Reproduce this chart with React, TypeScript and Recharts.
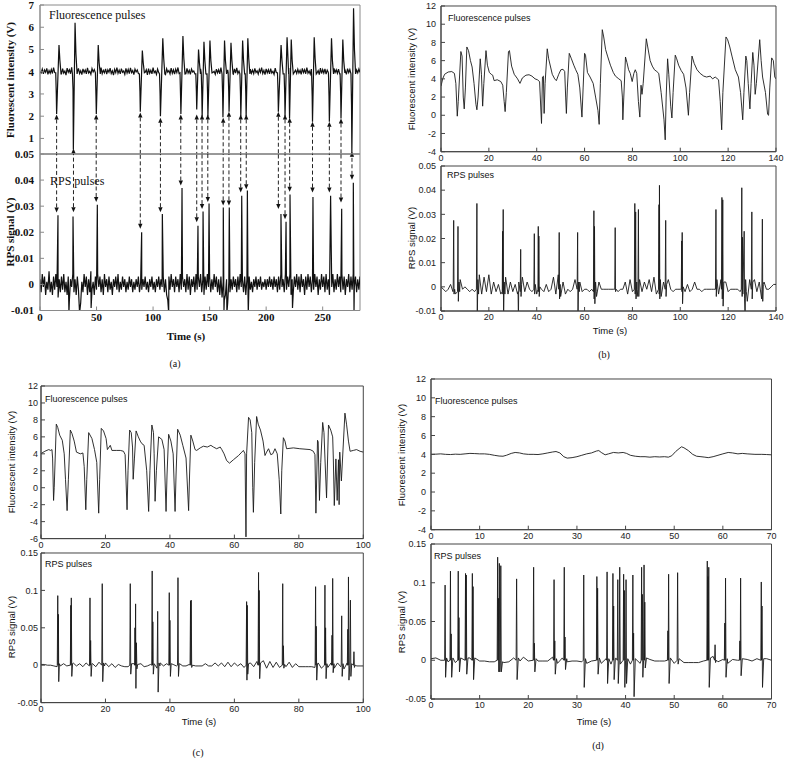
import React from "react";
import { LineChart, Line, XAxis, YAxis, ReferenceLine, ReferenceArea } from "recharts";

// ---------------- Panel (a) ----------------
const FLU_A_BASE = [
  4.02,3.95,4.12,3.9,4.08,3.97,4.15,3.88,4.05,3.93,
  4.1,3.92,4.18,3.96,4.04,3.86,4.12,3.99,4.07,3.9,
  4.14,3.94,4.03,3.85,4.16,3.98,4.09,3.91,4.2,3.95,
  4.06,3.89,4.11,3.97,4.15,3.92,4.04,3.87,4.13,3.96,
  4.08,3.9,4.17,3.94,4.02,3.88,4.14,3.99,4.1,3.93,
  4.05,3.86,4.12,3.97,4.19,3.91,4.06,3.95,4.13,3.89,
  4.09,3.98,4.16,3.92,4.04,3.85,4.11,3.96,4.18,3.93,
  4.07,3.9,4.14,3.97,4.03,3.88,4.15,3.94,4.1,3.91,
  4.17,3.96,4.05,3.87,4.12,3.99,4.08,3.92,4.16,3.95,
  4.04,3.89,4.13,3.97,4.09,3.86,4.14,3.93,4.06,3.9,
  4.18,3.95,4.03,3.88,4.12,3.96,4.1,3.91,4.15,3.94,
  4.07,3.87,4.13,3.98,4.05,3.9,4.16,3.93,4.08,3.89,
  4.11,3.96,4.19,3.92,4.04,3.87,4.14,3.97,4.09,3.91,
  4.15,3.94,4.06,3.88,4.12,3.99,4.03,3.9,4.17,3.95,
  4.08,3.86,4.13,3.96,4.1,3.92,4.05,3.89,4.16,3.94,
  4.07,3.91,4.14,3.97,4.02,3.88,4.12,3.95,4.09,3.9,
  4.18,3.93,4.04,3.87,4.15,3.98,4.08,3.91,4.11,3.96,
  4.06,3.89,4.13,3.94,4.17,3.92,4.03,3.86,4.14,3.97,
  4.1,3.9,4.05,3.95,4.16,3.88,4.12,3.93,4.07,3.91,
  4.15,3.96,4.04,3.89,4.11,3.97,4.18,3.92,4.06,3.87,
  4.13,3.95,4.09,3.9,4.14,3.94,4.02,3.88,4.16,3.96,
  4.08,3.91,4.12,3.97,4.05,3.89,4.15,3.93,4.1,3.9,
  4.17,3.95,4.04,3.86,4.13,3.98,4.07,3.92,4.11,3.94,
  4.06,3.88,4.15,3.96,4.09,3.91,4.19,3.93,4.03,3.89,
  4.12,3.97,4.08,3.9,4.14,3.95,4.05,3.87,4.16,3.92,
  4.1,3.94,4.13,3.89,4.07,3.96,4.17,3.91,4.04,3.88,
  4.15,3.97,4.09,3.93,4.12,3.9,4.06,3.95,4.18,3.92,
  4.04,3.88,4.14,3.96,4.1,3.91,4.07,3.94,4.16,3.9,
  4.08,3.95,4.12,3.97,
];

const FLU_A_PULSES: [number, number][][] = [
  [[13.9,3.95],[14.4,3.0],[14.7,2.1],[16.8,5.2],[17.6,4.5],[18.6,3.9]],
  [[28.7,3.9],[29.2,3.2],[29.5,0.5],[31.0,6.2],[31.8,4.8],[32.8,3.9]],
  [[49.0,3.95],[49.5,2.9],[49.8,2.1],[51.5,5.2],[52.3,4.4],[53.3,3.9]],
  [[87.9,3.9],[88.4,3.1],[88.7,2.2],[90.5,4.95],[91.3,4.4],[92.3,3.95]],
  [[105.7,3.9],[106.2,3.0],[106.5,2.0],[108.6,5.5],[109.4,4.6],[110.4,3.9]],
  [[123.8,3.95],[124.3,2.9],[124.6,2.1],[126.4,5.6],[127.2,4.6],[128.2,3.9]],
  [[137.8,3.9],[138.3,3.1],[138.6,2.3],[140.2,5.0],[141.0,4.4],[141.9,3.9]],
  [[142.6,3.95],[143.1,3.0],[143.4,2.0],[145.0,5.35],[145.8,4.5],[146.7,3.9]],
  [[147.7,3.9],[148.2,3.0],[148.5,2.0],[150.3,5.4],[151.1,4.5],[152.1,3.95]],
  [[161.0,3.9],[161.5,3.0],[161.8,1.95],[163.2,5.4],[164.0,4.5],[165.0,3.9]],
  [[166.4,3.95],[166.9,3.1],[167.2,2.2],[168.9,5.3],[169.7,4.5],[170.7,3.9]],
  [[176.8,3.9],[177.3,3.0],[177.6,2.0],[179.2,5.4],[180.0,4.5],[180.9,3.95]],
  [[181.5,3.9],[182.0,3.0],[182.3,2.0],[183.8,5.5],[184.6,4.6],[185.6,3.9]],
  [[210.0,3.95],[210.5,3.1],[210.8,2.2],[213.2,5.2],[214.0,4.5],[215.0,3.9]],
  [[215.9,3.9],[216.4,3.0],[216.7,2.0],[218.5,5.55],[219.3,4.6],[219.9,3.9]],
  [[220.1,3.95],[220.4,3.0],[220.7,1.9],[222.2,5.45],[223.0,4.5],[224.0,3.9]],
  [[240.2,3.9],[240.7,2.9],[241.0,1.75],[242.5,5.55],[243.3,4.6],[244.3,3.9]],
  [[255.1,3.95],[255.6,2.9],[255.9,1.75],[257.8,5.5],[258.6,4.5],[259.6,3.9]],
  [[265.4,3.9],[265.9,3.0],[266.2,1.9],[267.8,5.45],[268.6,4.5],[269.6,3.95]],
  [[275.0,3.9],[275.5,2.5],[275.8,0.35],[277.3,6.85],[278.1,5.0],[279.1,3.9]],
];

// RPS (a) in mV
const RPS_A_BASE_MV = [
  2,-3,4,-1,3,-4,1,-2,5,-3,
  1,-4,3,-2,4,-1,-5,2,-3,3,
  -2,4,-3,1,-4,3,-6,2,-1,4,
  -3,2,-4,3,-2,5,-7,1,-3,4,
  -1,3,-4,2,-3,5,-2,1,-4,3,
  -2,4,-1,3,-3,2,-4,4,-1,2,
  -3,3,-2,1,-4,2,-1,3,-2,4,
  -3,1,-2,3,-1,2,-3,1,-2,3,
  -1,2,-3,1,-2,2,-1,3,-3,1,
  -2,2,-1,3,-2,1,-3,2,-1,3,
  -2,1,-3,2,-1,3,-2,2,-1,3,
  -3,2,-4,-6,3,-2,4,-1,2,-3,
  3,-1,2,-3,4,-2,3,-1,2,-3,
  4,-2,3,-4,2,-1,3,-3,4,-2,
  3,-1,4,-3,2,-4,3,-2,4,-1,
  3,-3,2,-2,4,-1,3,-3,2,-4,
  3,-5,1,-6,-4,2,-7,1,-3,2,
  -2,3,-1,2,-3,3,-2,4,-1,2,
  -3,3,-4,2,-5,3,-2,1,-3,2,
  -1,3,-2,2,-1,3,-2,1,-1,2,
  -2,2,-1,3,-1,2,-2,3,-1,2,
  -3,3,-2,4,-1,2,-3,4,-2,3,
  -1,4,-4,2,-3,3,-1,4,-2,3,
  -3,4,-1,2,-4,3,-2,4,-1,3,
  -3,2,-2,4,-1,3,-4,2,-2,4,
  -1,3,-3,4,-2,2,-4,3,-1,4,
  -3,2,-2,4,-1,3,-3,4,-2,3,
  -4,2,-1,4,-3,3,-2,4,-1,3,
  -3,2,-2,3,
];

const RPS_A_SPIKES_MV: [number, number][] = [
  [15.9,26.5],[25.6,-11],[29.2,26],[35.0,-11],[45.2,-9],[50.7,30.5],[89.9,20],[108.2,27],
  [113.8,-11],[125.6,37],[139.7,22.5],[144.2,28],[149.5,31],[162.1,29.5],[162.7,-10],
  [165.3,-11],[167.4,29.5],[178.4,34],[183.4,36],[184.2,-11],[213.1,27],[217.6,24],
  [221.1,34.5],[223.3,-9],[241.4,33.5],[257.0,34],[266.8,29],[277.1,39],[277.7,-11],
];

// arrows: time, tip on fluorescence plot (V), tip on RPS plot (mV)
const ARROWS_A: [number, number, number][] = [
  [14.7,2.08,27.6],[29.6,0.55,27.7],[49.7,2.08,31.6],[88.7,2.17,21.3],[106.5,1.93,27.7],
  [124.5,2.08,37.9],[138.6,2.08,23.8],[143.3,2.08,28.9],[148.4,2.08,31.6],[162.0,1.93,30.3],
  [167.1,2.2,30.3],[177.5,2.08,35.2],[182.4,2.08,36.5],[210.8,2.2,28.9],[216.7,2.08,25.0],
  [220.8,1.93,35.5],[241.0,1.75,35.2],[255.9,1.75,35.2],[266.2,1.9,31.4],[275.9,0.4,40.1],
];

// ---------------- Panel (b) ----------------
const FLU_B: [number, number][] = [
  [0,3.2],[0.7,4.0],[1.5,4.5],[3,4.75],[4.5,4.8],[5.6,4.6],[6.2,3.5],[6.8,-0.1],[7.2,1.5],[8.3,7.0],
  [8.8,6.5],[9.3,2],[9.7,0.7],[10.2,3],[10.8,7.5],[11.5,7.1],[12.3,6],[13,5.3],[13.8,3.5],[14.6,1.2],
  [15,0.6],[15.5,2.0],[16.4,6.2],[16.9,4.5],[17.4,1.0],[17.9,3.5],[18.8,7.1],[19.4,5.5],[20.2,4.7],[21,4.5],
  [21.6,4.4],[22.2,3.8],[23.5,3.9],[25,3.7],[25.8,3.3],[26.4,1.5],[26.8,0.4],[27.3,2.5],[28.2,7.0],[28.6,7.1],
  [29.5,5.4],[30.6,4.5],[32,4.0],[33,3.5],[34,4.1],[35.5,4.4],[36.8,4.45],[38,4.3],[39.3,4.0],[40.3,3.9],
  [41.2,3.7],[41.7,0.8],[42,-0.9],[42.4,4.2],[42.8,4.3],[43.1,0.2],[43.5,3.5],[44.4,7.3],[45,6.2],[46.5,4.5],
  [47.5,4.0],[48.2,3.8],[49.2,4.5],[50.1,5.0],[51,5.05],[51.7,4.8],[52.1,2],[52.4,0.2],[52.8,3],[53.6,6.8],
  [54.5,6.2],[55.5,5.5],[56.3,5.0],[57.2,4.5],[58,3],[58.9,-0.2],[59.4,3],[60,6.8],[60.4,6.6],[61.2,4.7],
  [62.3,4.2],[63.6,3.5],[64.6,2.0],[65.6,0.5],[66.1,-1.0],[66.6,3.5],[67.4,9.4],[68,8.6],[68.8,7.2],[69.6,6.5],
  [70.8,5.5],[72,4.7],[72.9,4.3],[74.3,4.0],[75.3,3.8],[75.8,2],[76,-0.5],[76.4,2],[77.1,6.4],[77.7,5.8],
  [78.4,5.0],[79.1,4.6],[79.9,3.7],[80.6,4.6],[81.2,5.0],[81.8,4.6],[82.5,1.5],[83.1,-0.2],[83.6,3.3],[84,2.3],
  [84.5,3.5],[85.8,8.4],[86.4,7.5],[87.4,6.0],[88.3,5.4],[89.2,5.0],[90.2,4.8],[91,4.6],[92,2.5],[93.2,-0.5],
  [93.7,-2.7],[94.1,2],[94.7,6.2],[95.2,4.5],[96,1],[96.5,-0.3],[97,2.5],[97.9,6.6],[98.5,6.2],[99.3,5.5],
  [100.4,4.9],[101.4,4.5],[102.4,3],[103.4,0.0],[103.9,2.5],[104.9,6.5],[105.8,5.7],[107,5.0],[108.3,4.6],[109.8,4.3],
  [111,4.2],[112.5,4.3],[113.5,4.0],[114.6,4.2],[116,3.9],[116.7,1.5],[117.3,-1.6],[117.8,2.5],[119.1,8.6],[119.8,8.3],
  [120.7,7.5],[121.6,6.5],[123,5.0],[124.3,4.2],[125.2,2.5],[126.1,-0.5],[126.6,2.5],[127.4,6.5],[127.8,6.0],[128.4,3.5],
  [129.1,0.7],[129.6,3.5],[130.3,6.9],[130.8,5.5],[131.3,2.3],[131.8,3.5],[133.2,8.3],[133.8,6.0],[134.4,4.2],[135.6,2.5],
  [136.5,0.1],[136.9,0.0],[137.4,3.0],[138.2,6.3],[138.9,6.0],[139.5,4.2],[140,4.0],
];

const RPS_B_BASE_MV = [
  0,-1,-2,-1,1,-2,-3,-4,3,-1,
  0,-1,-2,-1,-2,-6,5,-3,4,-2,
  5,-3,2,-2,1,-3,-4,4,-3,2,
  -2,1,-3,-5,4,-2,2,-1,-2,3,
  -3,2,-1,-2,1,-2,-1,4,-3,5,
  -4,2,-3,-1,-2,-1,3,-5,2,-2,
  -1,-1,-2,-1,-3,-4,2,-1,-1,-1,
  -1,-1,-1,-2,-2,-1,-1,2,-3,3,
  -2,4,-4,3,-2,2,-1,3,-2,4,
  -3,5,-4,2,-3,3,-1,-2,-1,-1,
  -1,-3,-2,1,-2,-1,2,-1,-1,-2,
  -1,-1,-1,-1,-1,4,-3,3,-6,2,
  -2,-1,-1,-1,-1,-2,-3,5,-6,3,
  -4,3,-2,2,-5,2,-1,-1,0,1,
  1,
];

const RPS_B_SPIKES_MV: [number, number][][] = [
  [[5.1,-1],[5.3,27.5],[5.45,-3],[5.7,-1]],
  [[6.9,-2],[7.1,25],[7.25,-6],[7.5,2],[7.8,-2]],
  [[14.8,-1],[15.0,34.5],[15.15,-14],[15.4,3],[15.7,-3]],
  [[25.6,-2],[25.75,23],[25.85,-3],[26.0,32],[26.15,-14],[26.4,2],[26.7,-3]],
  [[32.2,-2],[32.35,-14],[32.5,2],[33.1,-2],[33.3,15.5],[33.45,-4],[33.7,1]],
  [[38.8,-1],[39.0,22],[39.15,-3],[39.4,1]],
  [[40.5,-1],[40.65,25],[40.8,-2],[40.9,21],[41.05,-4],[41.3,0]],
  [[49.2,-1],[49.4,22.5],[49.55,-5],[49.8,1]],
  [[56.9,-1],[57.1,22.5],[57.25,-14],[57.5,2],[57.8,-2]],
  [[63.7,-2],[63.9,31.5],[64.0,-5],[64.15,25],[64.3,-7],[64.6,2],[64.9,-2]],
  [[72.6,-1],[72.8,24.5],[72.95,-2],[73.2,-1]],
  [[80.8,-1],[81.0,34.5],[81.15,-3],[81.35,31],[81.5,-5],[81.8,2]],
  [[82.3,-1],[82.5,32],[82.65,-4],[82.9,2]],
  [[90.9,-1],[91.1,34],[91.2,-3],[91.3,42],[91.45,-5],[91.7,3]],
  [[93.7,-1],[93.9,27.5],[94.05,-4],[94.3,1]],
  [[100.4,-1],[100.6,19],[100.7,-2],[100.8,22.5],[100.95,-7],[101.2,0]],
  [[114.7,-1],[114.9,32],[115.05,-4],[115.3,3]],
  [[117.2,-1],[117.4,37],[117.55,-5],[117.75,36],[117.9,-8],[118.2,2]],
  [[125.5,-1],[125.7,41],[125.85,-4],[126.0,20.5],[126.15,-3],[126.7,23],[126.85,-5],[127.1,-14],[127.3,3],[127.6,-2]],
  [[129.7,-1],[129.9,31],[130.05,-5],[130.3,2]],
  [[134.1,-1],[134.3,28],[134.45,-6],[134.7,1]],
];

// ---------------- Panel (c) ----------------
const FLU_C: [number, number][] = [
  [0,4.0],[0.3,4.1],[1.2,4.3],[2.4,4.5],[3.0,4.4],[3.4,4.5],[3.6,3.5],[3.9,-1.5],[4.1,0],[4.75,7.5],
  [5.2,7.1],[5.8,6.2],[6.6,5.6],[7.2,4.0],[7.6,1.0],[8.1,-2.7],[8.5,1],[9.1,6.8],[9.6,6.4],[10.3,5.5],
  [11,4.2],[12.2,4.0],[13,4.1],[13.4,2.5],[13.9,-2.6],[14.2,1],[14.8,6.5],[15.8,5.8],[16.6,4.5],[17.3,3],
  [17.9,-3.0],[18.2,1],[18.7,7.0],[19.4,6.7],[20.2,5.8],[20.6,4.5],[21.5,5.0],[22,4.4],[23.5,4.4],[24.6,4.4],
  [25.6,4.3],[26.1,3.9],[26.7,-2.6],[27.0,2],[27.5,6.8],[28.0,6.5],[28.4,4.8],[28.6,1.0],[29.0,3.5],[29.5,6.7],
  [30.2,6.0],[30.8,5.5],[31.3,5.2],[32,5.0],[32.8,2],[33.4,-2.8],[33.8,2],[34.4,7.4],[34.9,6.5],[35.1,4],
  [35.4,-1.6],[35.8,2],[36.5,6.0],[37.5,5.7],[38.2,4.5],[38.8,-2.8],[39.1,1.5],[39.6,6.3],[40.3,5.5],[41,4.0],
  [41.6,-2.8],[41.9,1.5],[42.4,6.9],[43.2,6.2],[44,5.0],[45,3.5],[45.8,-2.7],[46.1,1.5],[46.5,6.2],[47.1,5.5],
  [47.8,4.5],[48.3,4.4],[49.4,4.7],[50.4,4.9],[51.6,4.8],[52.7,5.0],[53.5,4.8],[54.5,4.6],[55.6,4.8],[56.1,4.5],
  [56.8,4.0],[57.6,3.2],[58.5,2.9],[59.7,3.3],[61.3,3.8],[62.3,4.2],[62.8,4.4],[63.3,4.0],[63.6,-5.8],[63.8,4],
  [64.4,8.3],[64.9,8.0],[65.4,6.5],[65.7,0],[65.9,-2.9],[66.3,3],[66.9,8.4],[67.4,7.5],[68.1,6.8],[68.9,5.5],
  [69.5,3.8],[70.0,4.2],[70.6,4.6],[71.3,3.9],[71.9,4.0],[72.6,4.6],[73.3,4.0],[73.9,1],[74.4,-3.1],[74.7,2],
  [75.2,5.9],[75.7,5.5],[76.2,4.6],[78.3,4.7],[80.3,4.6],[83.5,4.5],[84.5,4.3],[85.0,3.9],[85.3,-3.0],[85.8,5.6],
  [86.0,5.4],[86.4,-1.5],[86.8,3],[87.4,7.7],[87.8,6.5],[88.1,3.5],[88.6,-1.2],[89.2,7.4],[89.9,6.8],[90.5,6.0],
  [90.7,3.5],[91.0,-2.1],[91.5,3.4],[91.9,-1.5],[92.3,3.3],[92.5,-2.0],[92.7,4.2],[93.2,0.8],[94.3,8.8],[94.8,7.5],
  [95.4,5.5],[95.9,4.3],[96.9,4.4],[97.9,4.5],[99,4.3],[100,4.2],
];

const RPS_C_BASE_MV = [
  1,1,0,0,-1,-2,1,2,-1,0,
  3,-1,2,-2,3,-1,2,-2,4,-3,
  3,-2,2,-3,1,-1,-2,-2,-3,2,
  -3,2,-2,-1,1,-2,-4,3,-1,2,
  -2,1,-1,2,-1,-1,1,-1,-1,-1,
  -1,2,-1,-1,3,-1,3,-2,4,-2,
  3,-1,2,-3,-4,3,-2,5,-3,6,
  -4,5,-3,4,-3,3,-2,4,-3,2,
  -2,-2,-2,-2,-2,-3,3,-4,4,-3,
  3,-4,3,-2,-5,3,-6,5,-1,-1,
  -1,
];

const RPS_C_SPIKES_MV: [number, number][][] = [
  [[5.05,0],[5.2,93],[5.3,0],[5.4,68],[5.5,-22],[5.7,2],[6.0,-1]],
  [[9.1,0],[9.25,80],[9.3,0],[9.4,90],[9.55,-15],[9.8,2]],
  [[15.05,0],[15.2,90],[15.3,0],[15.4,33],[15.55,-15],[15.8,2]],
  [[18.85,0],[19.0,109],[19.15,-22],[19.4,3],[19.7,-1]],
  [[27.55,0],[27.7,109],[27.85,-12],[28.1,2]],
  [[29.05,0],[29.15,50],[29.25,0],[29.35,82],[29.45,-31],[29.6,30],[29.75,-5],[30.0,1]],
  [[34.35,0],[34.5,126],[34.6,0],[34.7,58],[34.85,-12],[35.1,2]],
  [[36.05,0],[36.2,72],[36.35,-36],[36.6,3],[36.9,-1]],
  [[39.65,0],[39.8,97],[39.9,0],[40.0,60],[40.15,-15],[40.4,2]],
  [[42.35,0],[42.5,117],[42.65,-15],[42.9,2]],
  [[46.25,0],[46.4,86],[46.5,0],[46.6,87],[46.75,-3],[47.0,0]],
  [[63.65,0],[63.8,85],[63.9,-20],[64.0,80],[64.15,-12],[64.4,2]],
  [[67.35,0],[67.5,124],[67.6,0],[67.7,100],[67.85,-18],[68.1,3]],
  [[74.85,0],[75.0,109],[75.1,0],[75.2,26],[75.35,-4],[75.6,1]],
  [[85.05,0],[85.2,105],[85.3,0],[85.4,52],[85.55,-20],[85.8,2]],
  [[87.95,0],[88.1,107],[88.2,0],[88.3,50],[88.45,-18],[88.7,2]],
  [[90.15,0],[90.3,40],[90.4,0],[90.5,116],[90.65,-10],[90.9,2]],
  [[93.15,0],[93.3,66],[93.45,-15],[93.7,2]],
  [[95.05,0],[95.2,48],[95.3,0],[95.4,118],[95.55,-20],[95.8,0],[96.0,87],[96.15,-15],[96.4,2]],
  [[96.95,0],[97.1,18],[97.25,-3],[97.5,0]],
];

// ---------------- Panel (d) ----------------
const FLU_D: [number, number][] = [
  [0,4.0],[1,4.02],[2,4.05],[3,4.0],[4,3.98],[5,4.02],[6,4.0],[7,4.05],[8,4.1],[9,4.08],
  [10,4.05],[11,4.05],[12,4.0],[13,3.9],[14,3.82],[14.8,3.8],[15.5,3.9],[16.5,4.1],[17.3,4.2],[18.2,4.15],
  [19,4.05],[20,4.0],[21,4.0],[22,3.98],[23,4.05],[24,4.15],[25,4.25],[25.7,4.3],[26.5,4.15],[27.3,3.75],
  [28,3.6],[29,3.65],[30,3.75],[31,3.9],[32,4.05],[33,4.15],[34,4.35],[34.5,4.4],[35,4.2],[35.8,3.95],
  [36.5,4.05],[37.5,4.2],[38.5,4.15],[39.5,4.2],[40.2,4.1],[41,3.9],[42,3.8],[43,3.75],[44,3.75],[45,3.7],
  [46,3.75],[47,3.72],[48,3.75],[48.8,3.7],[49.5,3.85],[50.3,4.3],[51,4.6],[51.5,4.8],[52,4.7],[52.9,4.4],
  [53.8,4.0],[54.6,3.8],[55.5,3.75],[56.3,3.7],[57,3.65],[58,3.75],[59,3.9],[60,4.05],[61.1,4.2],[62,4.15],
  [63.1,4.05],[64,4.1],[65,4.05],[66.6,4.0],[68,4.0],[69,3.98],[70,3.95],
];

const RPS_D_BASE_MV = [
  2,3,0,-2,-5,-3,2,-5,3,-4,
  -1,-1,-2,-2,-2,-3,-2,3,-3,4,
  -1,-2,-1,-1,-1,4,-4,3,-2,-1,
  -1,-2,-4,-1,3,-4,2,-5,3,-4,
  4,-5,3,-4,3,1,-1,-1,-1,4,
  -4,2,-3,-3,-3,-3,-1,-4,5,-2,
  1,-4,1,0,-2,1,-1,2,-4,2,
  0,
];

const RPS_D_SPIKES_MV: [number, number][][] = [
  [[2.8,0],[2.9,97],[3.0,-22],[3.2,3],[3.5,-2]],
  [[3.9,0],[4.0,115],[4.07,0],[4.15,34],[4.25,-22],[4.5,3]],
  [[5.5,0],[5.6,115],[5.67,0],[5.75,55],[5.85,-15],[6.1,3]],
  [[7.0,0],[7.1,112],[7.17,0],[7.25,110],[7.35,-18],[7.6,3]],
  [[8.4,0],[8.5,112],[8.57,0],[8.65,95],[8.75,-25],[9.0,3]],
  [[13.6,0],[13.7,133],[13.77,0],[13.85,80],[13.95,-15],[14.05,125],[14.15,-15],[14.25,0],[14.35,122],[14.45,-15],[14.7,-2]],
  [[17.5,0],[17.6,105],[17.7,-25],[17.95,3],[18.3,-1]],
  [[21.0,0],[21.1,120],[21.17,0],[21.25,22],[21.35,-15],[21.6,2]],
  [[25.2,0],[25.3,104],[25.37,0],[25.45,25],[25.55,-18],[25.8,2]],
  [[27.3,0],[27.4,120],[27.47,0],[27.55,30],[27.65,-12],[27.9,2]],
  [[31.3,0],[31.4,110],[31.5,-35],[31.75,2]],
  [[34.0,0],[34.1,108],[34.17,0],[34.25,93],[34.35,-18],[34.6,3]],
  [[36.1,0],[36.2,114],[36.3,-30],[36.55,2]],
  [[37.3,0],[37.4,112],[37.47,0],[37.55,70],[37.65,-25],[37.9,2]],
  [[38.3,0],[38.4,104],[38.5,-30],[38.7,0],[38.8,120],[38.9,-5],[39.5,0],[39.6,111],[39.67,0],[39.75,90],[39.85,-35],[40.0,0],[40.1,104],[40.2,-30],[40.45,2]],
  [[41.4,0],[41.5,110],[41.57,0],[41.65,35],[41.75,-47],[42.0,2]],
  [[43.2,0],[43.3,120],[43.37,0],[43.45,85],[43.55,-22],[43.7,0],[43.8,123],[43.87,0],[43.95,75],[44.05,-10],[44.3,3]],
  [[48.6,0],[48.7,38],[48.77,0],[48.85,111],[48.95,-30],[49.2,3]],
  [[50.6,0],[50.7,113],[50.8,-5],[51.0,2]],
  [[56.7,0],[56.8,128],[56.87,0],[56.95,108],[57.02,0],[57.1,120],[57.2,-35],[57.45,3]],
  [[58.3,0],[58.4,20],[58.5,-3],[58.7,0]],
  [[60.3,0],[60.4,48],[60.47,0],[60.55,106],[60.65,-22],[60.9,2]],
  [[63.4,0],[63.5,25],[63.57,0],[63.65,106],[63.75,-20],[64.0,2]],
  [[67.8,0],[67.9,101],[67.97,0],[68.05,70],[68.15,-35],[68.4,2]],
];

// ---------------- tick labels ----------------
const TICKS_A_X = [0, 50, 100, 150, 200, 250];
const TICKS_A_FLU = [1, 2, 3, 4, 5, 6, 7];
const TICKS_A_RPS = [-0.01, 0, 0.01, 0.02, 0.03, 0.04, 0.05];
const TICKS_B_X = [0, 20, 40, 60, 80, 100, 120, 140];
const TICKS_BD_FLU = [-4, -2, 0, 2, 4, 6, 8, 10, 12];
const TICKS_B_RPS = [-0.01, 0, 0.01, 0.02, 0.03, 0.04, 0.05];
const TICKS_C_X = [0, 20, 40, 60, 80, 100];
const TICKS_C_FLU = [-6, -4, -2, 0, 2, 4, 6, 8, 10, 12];
const TICKS_CD_RPS = [-0.05, 0, 0.05, 0.1, 0.15];
const TICKS_D_X = [0, 10, 20, 30, 40, 50, 60, 70];

type Pt = { t: number; v: number };

function buildSeries(base: number[] | null, step: number, groups: [number, number][][], unit: number): Pt[] {
  const wins = groups.map((g) => [Math.min(...g.map((p) => p[0])), Math.max(...g.map((p) => p[0]))]);
  const pts: Pt[] = [];
  if (base) {
    base.forEach((v, i) => {
      const t = i * step;
      if (!wins.some(([a, b]) => t >= a && t <= b)) pts.push({ t, v: v * unit });
    });
  }
  groups.forEach((g) => g.forEach(([t, v]) => pts.push({ t, v: v * unit })));
  pts.sort((a, b) => a.t - b.t);
  return pts;
}

const dataAF = buildSeries(FLU_A_BASE, 1, FLU_A_PULSES, 1);
const dataAR = buildSeries(RPS_A_BASE_MV, 1, RPS_A_SPIKES_MV.map((p) => [p]), 0.001);
const dataBF = buildSeries(null, 1, [FLU_B], 1);
const dataBR = buildSeries(RPS_B_BASE_MV, 1, RPS_B_SPIKES_MV, 0.001);
const dataCF = buildSeries(null, 1, [FLU_C], 1);
const dataCR = buildSeries(RPS_C_BASE_MV, 1, RPS_C_SPIKES_MV, 0.001);
const dataDF = buildSeries(null, 1, [FLU_D], 1);
const dataDR = buildSeries(RPS_D_BASE_MV, 1, RPS_D_SPIKES_MV, 0.001);

const ArrowShape = (p: any) => {
  const { x1, y1, x2, y2 } = p;
  const up = y2 > y1;
  const yb = up ? y1 + 5 : y1 - 5;
  return (
    <g>
      <line x1={x1} y1={yb} x2={x2} y2={y2} stroke="#222" strokeWidth={1} strokeDasharray="4 2.5" />
      <path d={`M${x1},${y1} L${x1 - 2.2},${yb} L${x1 + 2.2},${yb} Z`} fill="#111" />
    </g>
  );
};

type Seg = { t: number; a: number; b: number };

type SubProps = {
  x: number; y: number; w: number; h: number;
  data: Pt[];
  xDomain: [number, number]; xTicks: number[]; showX: boolean;
  yDomain: [number, number]; yTicks: number[];
  tickStyle: any; frame: string; line: string; lw: number;
  yGap: number; segs?: Seg[];
};

const ML = 60, MT = 12, MR = 12, MB = 30, TL = 4;

function Sub(p: SubProps) {
  return (
    <div style={{ position: "absolute", left: p.x - ML, top: p.y - MT }}>
      <LineChart width={ML + p.w + MR} height={MT + p.h + MB} data={p.data}
        margin={{ top: MT, right: MR, left: 0, bottom: 0 }}>
        <XAxis xAxisId="b" dataKey="t" type="number" domain={p.xDomain} ticks={p.xTicks} allowDataOverflow
          height={MB} interval={0} tickSize={-TL} tickMargin={TL + 3} stroke={p.frame}
          tick={p.showX ? p.tickStyle : false} />
        <XAxis xAxisId="t" dataKey="t" orientation="top" type="number" domain={p.xDomain} ticks={p.xTicks}
          allowDataOverflow height={0} interval={0} tickSize={-TL} stroke={p.frame} tick={false} />
        <YAxis yAxisId="l" type="number" domain={p.yDomain} ticks={p.yTicks} allowDataOverflow width={ML}
          interval={0} tickSize={-TL} tickMargin={TL + p.yGap} stroke={p.frame} tick={p.tickStyle}
          tickFormatter={(v: number) => String(v)} />
        <YAxis yAxisId="r" orientation="right" type="number" domain={p.yDomain} ticks={p.yTicks} allowDataOverflow
          width={0} interval={0} tickSize={-TL} stroke={p.frame} tick={false} />
        <ReferenceArea xAxisId="b" yAxisId="l" x1={p.xDomain[0]} x2={p.xDomain[1]} y1={p.yDomain[0]} y2={p.yDomain[1]}
          ifOverflow="visible" fill="none" fillOpacity={0} stroke={p.frame} strokeWidth={1} />
        <Line xAxisId="t" yAxisId="r" dataKey="v" type="linear" dot={false} activeDot={false} stroke="none"
          strokeWidth={0} isAnimationActive={false} />
        <Line xAxisId="b" yAxisId="l" dataKey="v" type="linear" dot={false} stroke={p.line}
          strokeWidth={p.lw} isAnimationActive={false} />
        {(p.segs || []).map((s, i) => (
          <ReferenceLine key={i} xAxisId="b" yAxisId="l" ifOverflow="visible"
            segment={[{ x: s.t, y: s.a }, { x: s.t, y: s.b }]} shape={ArrowShape} />
        ))}
      </LineChart>
    </div>
  );
}

const serifTick = { fontFamily: "Liberation Serif", fontSize: 11, fontWeight: "bold", fill: "#111" };
const sansTick = { fontFamily: "Liberation Sans", fontSize: 9, fill: "#222" };

export default function App() {
  const segsTop: Seg[] = ARROWS_A.map(([t, a]) => ({ t, a, b: 0.3 }));
  const segsBot: Seg[] = ARROWS_A.map(([t, , b]) => ({ t, a: b / 1000, b: 0.05 }));
  const sans = "Liberation Sans";
  const serif = "Liberation Serif";
  const vt = (x: number, y: number, s: string, font: string, size: number, bold = false) => (
    <text x={x} y={y} transform={`rotate(-90 ${x} ${y})`} textAnchor="middle" dominantBaseline="central"
      fontFamily={font} fontSize={size} fontWeight={bold ? "bold" : "normal"} fill="#111">{s}</text>
  );
  const ht = (x: number, y: number, s: string, font: string, size: number, anchor = "middle", bold = false) => (
    <text x={x} y={y} textAnchor={anchor as any} dominantBaseline="central" fontFamily={font} fontSize={size}
      fontWeight={bold ? "bold" : "normal"} fill="#111">{s}</text>
  );
  return (
    <div style={{ position: "absolute", left: 0, top: 0, width: 787, height: 758, background: "#fff", overflow: "hidden" }}>
      {/* (a) */}
      <Sub x={40} y={5} w={320} h={149} data={dataAF} xDomain={[0, 283]} xTicks={TICKS_A_X} showX={false}
        yDomain={[0.3, 7]} yTicks={TICKS_A_FLU} tickStyle={serifTick} frame="#8a8a8a" line="#111" lw={1.2}
        yGap={6} segs={segsTop} />
      <Sub x={40} y={154} w={320} h={156.5} data={dataAR} xDomain={[0, 283]} xTicks={TICKS_A_X} showX={true}
        yDomain={[-0.01, 0.05]} yTicks={TICKS_A_RPS} tickStyle={serifTick} frame="#8a8a8a" line="#111" lw={1.2}
        yGap={6} segs={segsBot} />
      {/* (b) */}
      <Sub x={440.5} y={6} w={335} h={145.7} data={dataBF} xDomain={[0, 140]} xTicks={TICKS_B_X} showX={true}
        yDomain={[-4, 12]} yTicks={TICKS_BD_FLU} tickStyle={sansTick} frame="#444" line="#1a1a1a" lw={0.9} yGap={5} />
      <Sub x={440.5} y={166} w={335} h={145} data={dataBR} xDomain={[0, 140]} xTicks={TICKS_B_X} showX={true}
        yDomain={[-0.01, 0.05]} yTicks={TICKS_B_RPS} tickStyle={sansTick} frame="#444" line="#1a1a1a" lw={0.9} yGap={5} />
      {/* (c) */}
      <Sub x={40.7} y={385.7} w={322.3} h={152.6} data={dataCF} xDomain={[0, 100]} xTicks={TICKS_C_X} showX={true}
        yDomain={[-6, 12]} yTicks={TICKS_C_FLU} tickStyle={sansTick} frame="#444" line="#1a1a1a" lw={0.9} yGap={3} />
      <Sub x={40.7} y={552.7} w={322.3} h={149.6} data={dataCR} xDomain={[0, 100]} xTicks={TICKS_C_X} showX={true}
        yDomain={[-0.05, 0.15]} yTicks={TICKS_CD_RPS} tickStyle={sansTick} frame="#444" line="#1a1a1a" lw={0.9} yGap={3} />
      {/* (d) */}
      <Sub x={431} y={379.3} w={340.5} h={150.7} data={dataDF} xDomain={[0, 70]} xTicks={TICKS_D_X} showX={true}
        yDomain={[-4, 12]} yTicks={TICKS_BD_FLU} tickStyle={sansTick} frame="#444" line="#1a1a1a" lw={0.9} yGap={5} />
      <Sub x={431} y={544.3} w={340.5} h={155} data={dataDR} xDomain={[0, 70]} xTicks={TICKS_D_X} showX={true}
        yDomain={[-0.05, 0.15]} yTicks={TICKS_CD_RPS} tickStyle={sansTick} frame="#444" line="#1a1a1a" lw={0.9} yGap={5} />

      <svg width={787} height={758} style={{ position: "absolute", left: 0, top: 0, pointerEvents: "none" }}>
        {vt(10, 80, "Fluorescent intensity (V)", serif, 11, true)}
        {vt(10, 232, "RPS signal (V)", serif, 11, true)}
        {ht(186, 336, "Time (s)", serif, 11, "middle", true)}
        {ht(175, 363, "(a)", serif, 10)}
        {ht(49, 15, "Fluorescence pulses", serif, 12, "start")}
        {ht(50, 181, "RPS pulses", serif, 12, "start")}

        {vt(411, 79, "Fluorescent intensity (V)", sans, 9.5)}
        {vt(411, 238, "RPS signal (V)", sans, 9.5)}
        {ht(610, 330, "Time (s)", sans, 9.5)}
        {ht(604, 354, "(b)", serif, 10)}
        {ht(448, 18, "Fluorescence pulses", sans, 9, "start")}
        {ht(447, 175, "RPS pulses", sans, 9, "start")}

        {vt(11, 462, "Fluorescent intensity (V)", sans, 9.5)}
        {vt(11, 627, "RPS signal (V)", sans, 9.5)}
        {ht(199, 721, "Time (s)", sans, 9.5)}
        {ht(198, 752, "(c)", serif, 10)}
        {ht(45, 399, "Fluorescence pulses", sans, 9, "start")}
        {ht(45, 564, "RPS pulses", sans, 9, "start")}

        {vt(401, 455, "Fluorescent intensity (V)", sans, 9.5)}
        {vt(401, 622, "RPS signal (V)", sans, 9.5)}
        {ht(594, 721, "Time (s)", sans, 9.5)}
        {ht(598, 745, "(d)", serif, 10)}
        {ht(435, 401, "Fluorescence pulses", sans, 9, "start")}
        {ht(434, 556, "RPS pulses", sans, 9, "start")}
      </svg>
    </div>
  );
}
